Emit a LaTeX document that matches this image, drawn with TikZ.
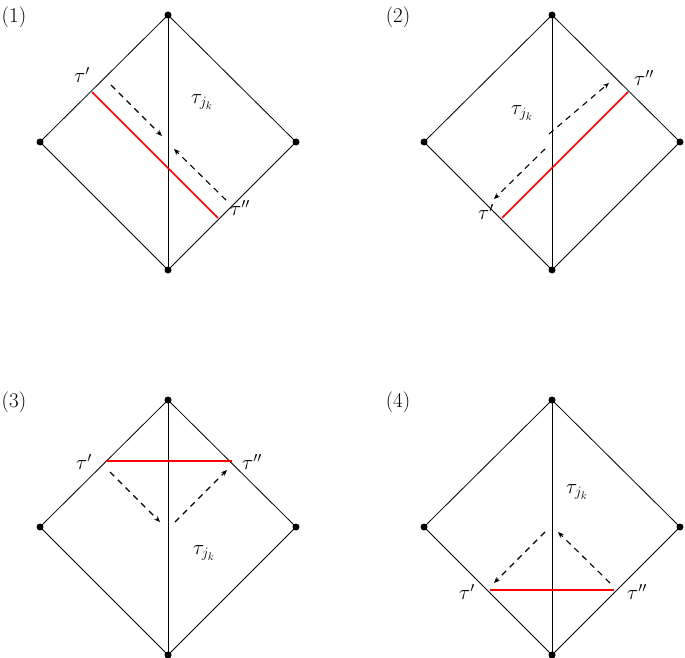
\documentclass[tikz,border=0pt]{standalone}
\usetikzlibrary{arrows.meta}
\begin{document}
\begin{tikzpicture}[x=1pt,y=-1pt,
  edge/.style={black,line width=0.8pt},
  dot/.style={circle,fill=black,inner sep=0pt,minimum size=7pt},
  redl/.style={red,line width=1.5pt},
  darr/.style={line width=1.1pt,dash pattern=on 6pt off 5pt,-{Stealth[length=6pt,width=5pt]}},
  lab/.style={font=\fontsize{21}{25}\selectfont,inner sep=1pt}]
\useasboundingbox (0,0) rectangle (685,658);
\foreach \n/\cx/\cy in {a/168/15,b/552/15,c/168/400,d/552/400}{
  \node[dot] (\n t) at (\cx,\cy) {};
  \node[dot] (\n l) at (\cx-128,\cy+127) {};
  \node[dot] (\n r) at (\cx+128,\cy+127) {};
  \node[dot] (\n b) at (\cx,\cy+255) {};
  \draw[edge] (\n t.center)--(\n l.center)--(\n b.center)--(\n r.center)--cycle;
  \draw[edge] (\n t.center)--(\n b.center);
}
\node[lab] (n1) at (14,17) {(1)};
\node[lab] (n2) at (398,17) {(2)};
\node[lab] (n3) at (14,402) {(3)};
\node[lab] (n4) at (398,402) {(4)};
% panel 1
\coordinate (p1a) at (92,92); \coordinate (p1b) at (218,218);
\draw[redl] (p1a)--(p1b);
\coordinate (q1a) at (111,85); \coordinate (q1b) at (162,136);
\coordinate (q1c) at (226,200); \coordinate (q1d) at (174,149);
\draw[darr] (q1a)--(q1b); \draw[darr] (q1c)--(q1d);
\node[lab] (t1a) at (82,75) {$\tau'$};
\node[lab] (t1b) at (202,102) {$\tau_{j_k}$};
\node[lab] (t1c) at (240,208) {$\tau''$};
% panel 2
\coordinate (p2a) at (502,218); \coordinate (p2b) at (628,92);
\draw[redl] (p2a)--(p2b);
\coordinate (q2a) at (549,134); \coordinate (q2b) at (609,83);
\coordinate (q2c) at (545,149); \coordinate (q2d) at (494,199);
\draw[darr] (q2a)--(q2b); \draw[darr] (q2c)--(q2d);
\node[lab] (t2a) at (486,212) {$\tau'$};
\node[lab] (t2b) at (522,113) {$\tau_{j_k}$};
\node[lab] (t2c) at (644,78) {$\tau''$};
% panel 3
\coordinate (p3a) at (106,461); \coordinate (p3b) at (232,461);
\draw[redl] (p3a)--(p3b);
\coordinate (q3a) at (110,472); \coordinate (q3b) at (160,522);
\coordinate (q3c) at (175,522); \coordinate (q3d) at (227,470);
\draw[darr] (q3a)--(q3b); \draw[darr] (q3c)--(q3d);
\node[lab] (t3a) at (84,462) {$\tau'$};
\node[lab] (t3b) at (204,553) {$\tau_{j_k}$};
\node[lab] (t3c) at (252,462) {$\tau''$};
% panel 4
\coordinate (p4a) at (490,590); \coordinate (p4b) at (614,590);
\draw[redl] (p4a)--(p4b);
\coordinate (q4a) at (545,532); \coordinate (q4b) at (494,583);
\coordinate (q4c) at (610,583); \coordinate (q4d) at (558,532);
\draw[darr] (q4a)--(q4b); \draw[darr] (q4c)--(q4d);
\node[lab] (t4a) at (467,592) {$\tau'$};
\node[lab] (t4b) at (577,492) {$\tau_{j_k}$};
\node[lab] (t4c) at (637,592) {$\tau''$};
\end{tikzpicture}
\end{document}
